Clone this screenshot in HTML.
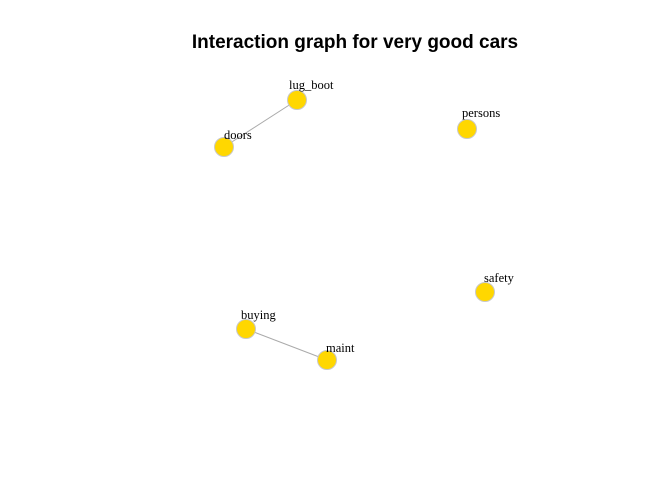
<!DOCTYPE html>
<html><head><style>body{margin:0;background:#fff}</style></head><body>
<svg width="672" height="480" xmlns="http://www.w3.org/2000/svg">
<rect width="672" height="480" fill="#fff"/>
<text x="355" y="48" text-anchor="middle" font-family="Liberation Sans, sans-serif" font-weight="bold" font-size="19">Interaction graph for very good cars</text>
<g stroke="#aaaaaa" stroke-width="1">
<line x1="297" y1="100" x2="224" y2="147"/>
<line x1="246" y1="329" x2="327" y2="360"/>
</g>
<g fill="#FFD700" stroke="#c8c8c8" stroke-width="1">
<circle cx="297" cy="100" r="9.5"/>
<circle cx="224" cy="147" r="9.5"/>
<circle cx="467" cy="129" r="9.5"/>
<circle cx="485" cy="292" r="9.5"/>
<circle cx="246" cy="329" r="9.5"/>
<circle cx="327" cy="360" r="9.5"/>
</g>
<g font-family="Liberation Serif, serif" font-size="12.5" fill="#000">
<text x="289" y="89">lug_boot</text>
<text x="224" y="139">doors</text>
<text x="462" y="117">persons</text>
<text x="484" y="282">safety</text>
<text x="241" y="319">buying</text>
<text x="326" y="352">maint</text>
</g>
</svg>
</body></html>
